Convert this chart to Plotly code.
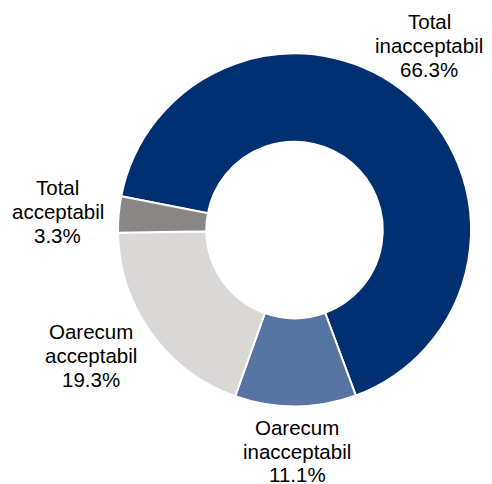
import plotly.graph_objects as go

# data
categories = ["Total inacceptabil", "Oarecum inacceptabil", "Oarecum acceptabil", "Total acceptabil"]
shares = [66.3, 11.1, 19.3, 3.3]

colors = ["#003072", "#5775A3", "#D9D8D7", "#8A8685"]

# the page puts the figure 8px in from the top-left corner
OFF = 8
W, H = 492 - OFF, 484 - OFF

def px_x(x):
    return (x - OFF) / W

def px_y(y):
    return 1 - (y - OFF) / H

# label block positions (page px, centre of first line) and line spacing
label_pos = [(429, 21.7), (297.3, 427.5), (90.8, 331.7), (57.5, 187.7)]
line_gap = 23.7
font = dict(family="Arial, Liberation Sans, sans-serif", size=20.5, color="#000000")

fig = go.Figure(go.Pie(
    labels=categories,
    values=shares,
    hole=0.5,
    sort=False,
    direction="clockwise",
    rotation=-79,
    marker=dict(colors=colors, line=dict(color="white", width=2)),
    textinfo="none",
    hoverinfo="label+percent",
    domain=dict(x=[px_x(118), px_x(471)], y=[px_y(406.5), px_y(53.5)]),
))

# outside labels, one line at a time
for cat, val, (lx, ly) in zip(categories, shares, label_pos):
    lines = cat.split(" ") + [f"{val}%"]
    for i, txt in enumerate(lines):
        fig.add_annotation(
            x=px_x(lx), y=px_y(ly + i * line_gap),
            xref="paper", yref="paper",
            text=txt, showarrow=False,
            xanchor="center", yanchor="middle",
            font=font,
        )

fig.update_layout(
    width=W, height=H,
    margin=dict(l=0, r=0, t=0, b=0),
    paper_bgcolor="white",
    plot_bgcolor="white",
    showlegend=False,
)

fig.write_html("out.html")
